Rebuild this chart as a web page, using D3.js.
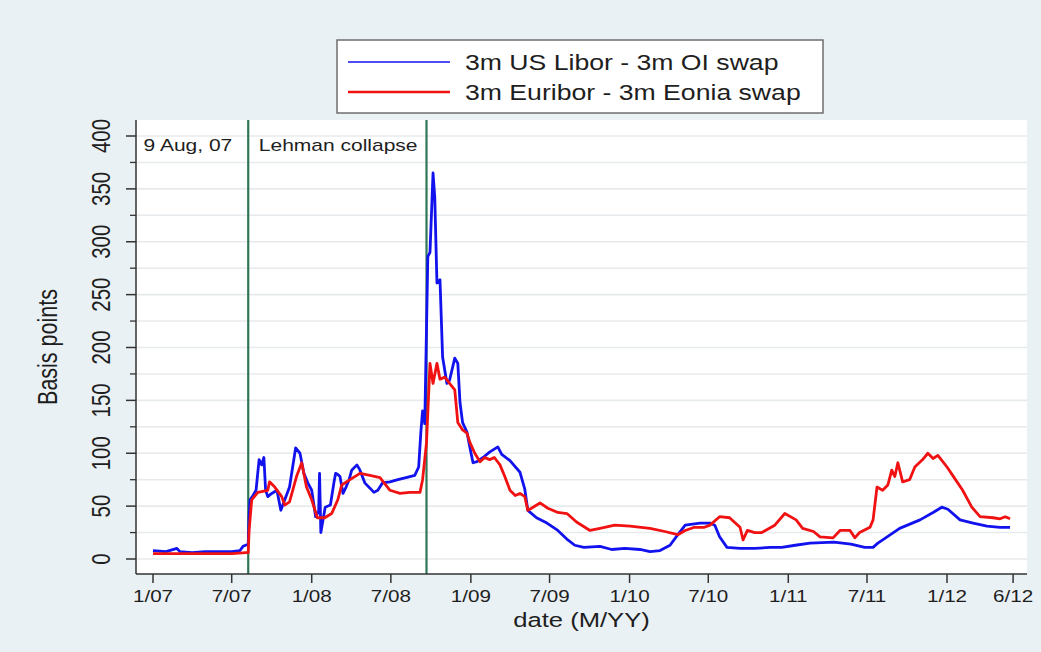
<!DOCTYPE html>
<html>
<head>
<meta charset="utf-8">
<script src="https://cdn.jsdelivr.net/npm/d3@7"></script>
<style>
  html, body { margin: 0; padding: 0; background: #eaf1f4; }
  svg { display: block; }
  text { font-family: "Liberation Sans", Arial, sans-serif; fill: #1e1e1e; }
</style>
</head>
<body>
<svg id="chart" width="1041" height="652"></svg>
<script>
// spreads in basis points
const usSpread = [
  ['2007-01-01', 8], ['2007-01-31', 7], ['2007-02-25', 10], ['2007-03-04', 7], ['2007-04-01', 6], ['2007-05-01', 7],
  ['2007-06-01', 7], ['2007-07-01', 7], ['2007-07-20', 8], ['2007-07-27', 12], ['2007-08-08', 14], ['2007-08-10', 40],
  ['2007-08-12', 56], ['2007-08-19', 60], ['2007-08-26', 65], ['2007-09-02', 94], ['2007-09-08', 89], ['2007-09-13', 96],
  ['2007-09-17', 65], ['2007-09-22', 59], ['2007-10-01', 62], ['2007-10-13', 65], ['2007-10-22', 46], ['2007-10-31', 56],
  ['2007-11-11', 68], ['2007-11-25', 105], ['2007-12-05', 100], ['2007-12-14', 81], ['2007-12-23', 72], ['2008-01-01', 65],
  ['2008-01-10', 40], ['2008-01-17', 45], ['2008-01-19', 81], ['2008-01-22', 25], ['2008-02-01', 49], ['2008-02-13', 51],
  ['2008-02-21', 72], ['2008-02-25', 81], ['2008-03-01', 80], ['2008-03-06', 78], ['2008-03-13', 62], ['2008-03-20', 68],
  ['2008-03-27', 75], ['2008-04-02', 84], ['2008-04-14', 89], ['2008-04-21', 84], ['2008-05-02', 72], ['2008-05-14', 67],
  ['2008-05-23', 63], ['2008-06-01', 65], ['2008-06-12', 72], ['2008-06-29', 73], ['2008-07-17', 75], ['2008-08-05', 77],
  ['2008-08-25', 79], ['2008-09-03', 87], ['2008-09-08', 120], ['2008-09-12', 140], ['2008-09-17', 128], ['2008-09-24', 286],
  ['2008-09-29', 290], ['2008-10-06', 365], ['2008-10-10', 342], ['2008-10-15', 261], ['2008-10-22', 264], ['2008-10-28', 191],
  ['2008-11-07', 166], ['2008-11-13', 169], ['2008-11-25', 190], ['2008-12-02', 185], ['2008-12-07', 148], ['2008-12-13', 129],
  ['2008-12-23', 120], ['2008-12-30', 105], ['2009-01-06', 91], ['2009-01-15', 92], ['2009-01-29', 96], ['2009-02-13', 101],
  ['2009-03-04', 106], ['2009-03-13', 99], ['2009-04-01', 93], ['2009-04-24', 82], ['2009-05-05', 66], ['2009-05-12', 46],
  ['2009-06-01', 39], ['2009-06-25', 34], ['2009-07-20', 27], ['2009-08-12', 18], ['2009-08-28', 13], ['2009-09-18', 11],
  ['2009-10-25', 12], ['2009-11-21', 9], ['2009-12-21', 10], ['2010-01-25', 9], ['2010-02-17', 7], ['2010-03-12', 8],
  ['2010-04-04', 13], ['2010-04-22', 23], ['2010-05-09', 32], ['2010-06-12', 34], ['2010-07-05', 34], ['2010-07-16', 32],
  ['2010-07-27', 21], ['2010-08-13', 11], ['2010-09-12', 10], ['2010-10-16', 10], ['2010-11-20', 11], ['2010-12-17', 11],
  ['2011-01-17', 13], ['2011-02-20', 15], ['2011-04-16', 16], ['2011-05-25', 14], ['2011-06-26', 11], ['2011-07-15', 11],
  ['2011-07-26', 15], ['2011-08-13', 20], ['2011-09-14', 29], ['2011-10-31', 37], ['2011-11-30', 44], ['2011-12-20', 49],
  ['2012-01-03', 47], ['2012-01-31', 37], ['2012-03-01', 34], ['2012-04-02', 31], ['2012-05-02', 30], ['2012-05-25', 30]
];

const euSpread = [
  ['2007-01-01', 5], ['2007-03-01', 5], ['2007-05-01', 5], ['2007-07-01', 5], ['2007-08-03', 6], ['2007-08-08', 6],
  ['2007-08-10', 27], ['2007-08-16', 56], ['2007-08-30', 63], ['2007-09-22', 65], ['2007-09-26', 73], ['2007-10-08', 68],
  ['2007-10-24', 59], ['2007-10-31', 51], ['2007-11-11', 54], ['2007-11-27', 78], ['2007-12-09', 91], ['2007-12-20', 68],
  ['2008-01-01', 56], ['2008-01-14', 39], ['2008-01-31', 39], ['2008-02-16', 43], ['2008-03-01', 56], ['2008-03-10', 70],
  ['2008-03-29', 75], ['2008-04-21', 81], ['2008-05-14', 79], ['2008-06-06', 77], ['2008-06-29', 65], ['2008-07-22', 62],
  ['2008-08-13', 63], ['2008-09-06', 63], ['2008-09-12', 75], ['2008-09-21', 110], ['2008-09-29', 185], ['2008-10-06', 166],
  ['2008-10-15', 185], ['2008-10-22', 170], ['2008-11-02', 172], ['2008-11-13', 166], ['2008-11-25', 160], ['2008-12-02', 129],
  ['2008-12-13', 122], ['2008-12-23', 119], ['2008-12-30', 110], ['2009-01-10', 100], ['2009-01-22', 92], ['2009-02-02', 96],
  ['2009-02-13', 94], ['2009-02-24', 96], ['2009-03-09', 89], ['2009-03-20', 78], ['2009-04-01', 65], ['2009-04-13', 60],
  ['2009-04-24', 62], ['2009-05-05', 59], ['2009-05-12', 46], ['2009-05-24', 49], ['2009-06-09', 53], ['2009-06-27', 48],
  ['2009-07-20', 44], ['2009-08-10', 43], ['2009-09-01', 35], ['2009-10-02', 27], ['2009-10-25', 29], ['2009-11-28', 32],
  ['2010-01-02', 31], ['2010-02-17', 29], ['2010-03-23', 26], ['2010-04-22', 23], ['2010-05-09', 27], ['2010-05-30', 30],
  ['2010-06-22', 30], ['2010-07-05', 32], ['2010-07-27', 40], ['2010-08-19', 39], ['2010-09-12', 30], ['2010-09-19', 18],
  ['2010-09-29', 27], ['2010-10-16', 25], ['2010-11-01', 25], ['2010-12-01', 32], ['2010-12-24', 43], ['2011-01-19', 37],
  ['2011-02-03', 29], ['2011-02-28', 26], ['2011-03-15', 21], ['2011-04-14', 20], ['2011-04-30', 27], ['2011-05-23', 27],
  ['2011-06-03', 20], ['2011-06-14', 25], ['2011-07-08', 30], ['2011-07-15', 37], ['2011-07-24', 68], ['2011-08-06', 65],
  ['2011-08-18', 70], ['2011-08-27', 84], ['2011-09-03', 78], ['2011-09-10', 91], ['2011-09-21', 73], ['2011-10-07', 75],
  ['2011-10-19', 87], ['2011-11-06', 94], ['2011-11-18', 100], ['2011-11-30', 95], ['2011-12-11', 98], ['2012-01-01', 87],
  ['2012-01-19', 76], ['2012-02-06', 65], ['2012-02-27', 49], ['2012-03-17', 40], ['2012-04-16', 39], ['2012-05-02', 38],
  ['2012-05-14', 40], ['2012-05-25', 38]
];

const seriesNames = ['3m US Libor - 3m OI swap', '3m Euribor - 3m Eonia swap'];
const seriesColors = ['#1212ee', '#f01212'];

const xTickDates = ['2007-01-01', '2007-07-01', '2008-01-01', '2008-07-01', '2009-01-01', '2009-07-01',
  '2010-01-01', '2010-07-01', '2011-01-01', '2011-07-01', '2012-01-01', '2012-06-01'];
const yTickValues = [0, 50, 100, 150, 200, 250, 300, 350, 400];
const yMinorValues = d3.range(25, 400, 50);
const gridValues = d3.range(0, 425, 25);

const events = [
  { date: '2007-08-08', label: '9 Aug, 07', offset: 16 },
  { date: '2008-09-21', label: 'Lehman collapse', offset: 9 }
];

const width = 1041;
const height = 652;
const plot = { left: 136, right: 1027, top: 120, bottom: 574 };
const stretch = 1.25; // the source image is widened horizontally

const parse = d3.utcParse('%Y-%m-%d');
const fmt = d3.utcFormat('%-m/%y');

const svg = d3.select('#chart');

svg.append('rect')
  .attr('width', width)
  .attr('height', height)
  .attr('fill', '#eaf1f4');

const x = d3.scaleUtc()
  .domain([parse('2007-01-01'), parse('2012-01-01')])
  .range([153, 947]);

const y = d3.scaleLinear()
  .domain([0, 400])
  .range([559, 136]);

// plot region
svg.append('rect')
  .attr('x', plot.left)
  .attr('y', plot.top)
  .attr('width', plot.right - plot.left)
  .attr('height', plot.bottom - plot.top)
  .attr('fill', '#ffffff');

svg.append('g')
  .selectAll('line')
  .data(gridValues)
  .join('line')
  .attr('x1', plot.left)
  .attr('x2', plot.right)
  .attr('y1', d => y(d))
  .attr('y2', d => y(d))
  .attr('stroke', '#e7eaec')
  .attr('stroke-width', 1.6);

svg.append('defs').append('clipPath')
  .attr('id', 'plotClip')
  .append('rect')
  .attr('x', plot.left)
  .attr('y', plot.top)
  .attr('width', plot.right - plot.left)
  .attr('height', plot.bottom - plot.top);

// event markers
svg.append('g')
  .selectAll('line')
  .data(events)
  .join('line')
  .attr('x1', d => x(parse(d.date)))
  .attr('x2', d => x(parse(d.date)))
  .attr('y1', plot.top)
  .attr('y2', plot.bottom)
  .attr('stroke', '#2f7656')
  .attr('stroke-width', 2.2);

svg.append('g')
  .selectAll('text')
  .data(events)
  .join('text')
  .attr('transform', d => `translate(${x(parse(d.date)) - d.offset},151) scale(${stretch},1)`)
  .attr('text-anchor', 'end')
  .attr('font-size', 16.8)
  .text(d => d.label);

// series
const line = d3.line()
  .x(d => x(parse(d[0])))
  .y(d => y(d[1]));

svg.append('g')
  .attr('clip-path', 'url(#plotClip)')
  .selectAll('path')
  .data([usSpread, euSpread])
  .join('path')
  .attr('d', line)
  .attr('fill', 'none')
  .attr('stroke', (_, i) => seriesColors[i])
  .attr('stroke-width', 2.8)
  .attr('stroke-linejoin', 'round');

// y axis
const yAxis = svg.append('g')
  .attr('transform', `translate(${plot.left},0)`);

yAxis.append('line')
  .attr('y1', plot.top)
  .attr('y2', plot.bottom)
  .attr('stroke', '#333')
  .attr('stroke-width', 1.5);

yAxis.selectAll('line.major')
  .data(yTickValues)
  .join('line')
  .attr('class', 'major')
  .attr('x1', -10)
  .attr('x2', 0)
  .attr('y1', d => y(d))
  .attr('y2', d => y(d))
  .attr('stroke', '#333')
  .attr('stroke-width', 1.5);

yAxis.selectAll('line.minor')
  .data(yMinorValues)
  .join('line')
  .attr('class', 'minor')
  .attr('x1', -6)
  .attr('x2', 0)
  .attr('y1', d => y(d))
  .attr('y2', d => y(d))
  .attr('stroke', '#333')
  .attr('stroke-width', 1.3);

yAxis.selectAll('text')
  .data(yTickValues)
  .join('text')
  .attr('transform', d => `translate(-26,${y(d)}) rotate(-90) scale(1,${stretch})`)
  .attr('text-anchor', 'middle')
  .attr('font-size', 20.5)
  .text(d => d);

svg.append('text')
  .attr('transform', `translate(57,${(plot.top + plot.bottom) / 2}) rotate(-90) scale(1,${stretch})`)
  .attr('text-anchor', 'middle')
  .attr('font-size', 21.5)
  .text('Basis points');

// x axis
const xAxis = svg.append('g')
  .attr('transform', `translate(0,${plot.bottom})`);

xAxis.append('line')
  .attr('x1', plot.left)
  .attr('x2', plot.right)
  .attr('stroke', '#333')
  .attr('stroke-width', 1.5);

xAxis.selectAll('line.tick')
  .data(xTickDates)
  .join('line')
  .attr('class', 'tick')
  .attr('x1', d => x(parse(d)))
  .attr('x2', d => x(parse(d)))
  .attr('y1', 0)
  .attr('y2', 9)
  .attr('stroke', '#333')
  .attr('stroke-width', 1.5);

xAxis.selectAll('text')
  .data(xTickDates)
  .join('text')
  .attr('transform', d => `translate(${x(parse(d))},28) scale(${stretch},1)`)
  .attr('text-anchor', 'middle')
  .attr('font-size', 16.5)
  .text(d => fmt(parse(d)));

svg.append('text')
  .attr('transform', `translate(${(plot.left + plot.right) / 2},627) scale(${stretch},1)`)
  .attr('text-anchor', 'middle')
  .attr('font-size', 20.5)
  .text('date (M/YY)');

// legend
const legend = svg.append('g')
  .attr('transform', 'translate(337,40)');

legend.append('rect')
  .attr('width', 486)
  .attr('height', 73)
  .attr('fill', '#ffffff')
  .attr('stroke', '#6e6e6e')
  .attr('stroke-width', 1.5);

const items = legend.selectAll('g.item')
  .data(seriesNames)
  .join('g')
  .attr('class', 'item')
  .attr('transform', (_, i) => `translate(0,${22 + i * 30})`);

items.append('line')
  .attr('x1', 11)
  .attr('x2', 113)
  .attr('stroke', (_, i) => seriesColors[i])
  .attr('stroke-width', (_, i) => i === 0 ? 1.4 : 2.4);

items.append('text')
  .attr('transform', `translate(128,7.5) scale(${stretch},1)`)
  .attr('font-size', 21.3)
  .text(d => d);
</script>
</body>
</html>
